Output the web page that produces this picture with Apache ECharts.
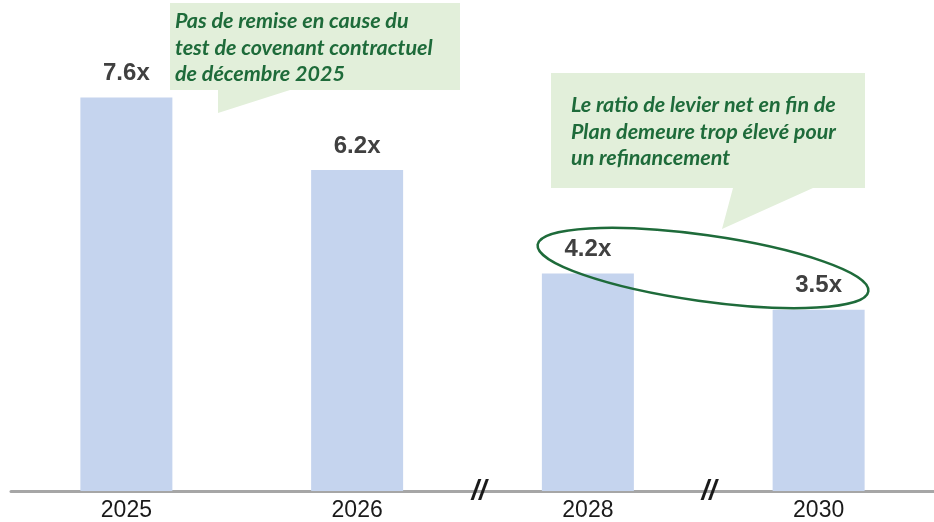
<!DOCTYPE html>
<html>
<head>
<meta charset="utf-8">
<script src="https://cdn.jsdelivr.net/npm/echarts@6/dist/echarts.min.js"></script>
<style>
  html, body { margin: 0; padding: 0; background: #fff; }
  .box { width: 934px; height: 522px; }
</style>
</head>
<body>
<div class="box"></div>
<script>
// données du graphique
var years = ["2025", "2026", "2028", "2030"];
var leverage = [7.6, 6.2, 4.2, 3.5];
var note1 = ["Pas de remise en cause du", "test de covenant contractuel", "de décembre 2025"];
var note2 = ["Le ratio de levier net en fin de", "Plan demeure trop élevé pour", "un refinancement"];

(function () {
    var myChart = echarts.init(document.querySelector(".box"));

    var calloutFill = "#e2efda";
    var calloutText = {
        fill: "#1e6b3a",
        font: "italic bold 21.5px Lato, 'Open Sans', sans-serif",
        lineHeight: 26.5
    };

    var option = {
        animation: false,
        grid: { left: 11, right: 0, top: 25, bottom: 31 },
        xAxis: {
            type: "category",
            data: years,
            axisLine: { lineStyle: { color: "#a6a6a6", width: 3 } },
            axisTick: { show: false },
            axisLabel: {
                color: "#1a1a1a",
                fontSize: 23,
                fontFamily: "'Liberation Sans', Arial, sans-serif",
                margin: 8
            }
        },
        yAxis: {
            type: "value",
            min: 0,
            max: 9,
            show: false,
            splitLine: { show: false }
        },
        series: [
            {
                type: "bar",
                data: leverage,
                barWidth: 92,
                itemStyle: { color: "#c5d4ee" },
                label: {
                    show: true,
                    position: "top",
                    distance: 12,
                    formatter: function (p) { return p.value.toFixed(1) + "x"; },
                    color: "#404040",
                    fontSize: 24,
                    fontWeight: "bold",
                    fontFamily: "'Liberation Sans', Arial, sans-serif"
                }
            }
        ],
        graphic: [
            // bulle 1
            {
                type: "polygon",
                z: 10,
                shape: { points: [[170, 3], [460, 3], [460, 90], [290, 90], [218, 113], [218, 90], [170, 90]] },
                style: { fill: calloutFill }
            },
            {
                type: "text",
                z: 11,
                left: 175, top: 8,
                style: Object.assign({ text: note1.join("\n") }, calloutText)
            },
            // bulle 2
            {
                type: "polygon",
                z: 10,
                shape: { points: [[551, 73], [865, 73], [865, 188], [813, 188], [722, 229], [733, 188], [551, 188]] },
                style: { fill: calloutFill }
            },
            {
                type: "text",
                z: 11,
                left: 571, top: 92,
                style: Object.assign({ text: note2.join("\n") }, calloutText)
            },
            // ellipse autour de 2028 / 2030
            {
                type: "ellipse",
                z: 12,
                x: 703, y: 268,
                rotation: -0.14,
                shape: { cx: 0, cy: 0, rx: 167, ry: 33 },
                style: { fill: null, stroke: "#1e6b3a", lineWidth: 2.5 }
            },
            // marques de rupture d'axe
            {
                type: "text", z: 12, x: 479, y: 492,
                style: { text: "//", fill: "#1a1a1a", align: "center", verticalAlign: "middle",
                         font: "italic bold 27px 'Liberation Sans', Arial, sans-serif" }
            },
            {
                type: "text", z: 12, x: 709, y: 492,
                style: { text: "//", fill: "#1a1a1a", align: "center", verticalAlign: "middle",
                         font: "italic bold 27px 'Liberation Sans', Arial, sans-serif" }
            }
        ]
    };

    myChart.setOption(option);

    window.addEventListener("resize", function () {
        myChart.resize();
    });
})();
</script>
</body>
</html>
